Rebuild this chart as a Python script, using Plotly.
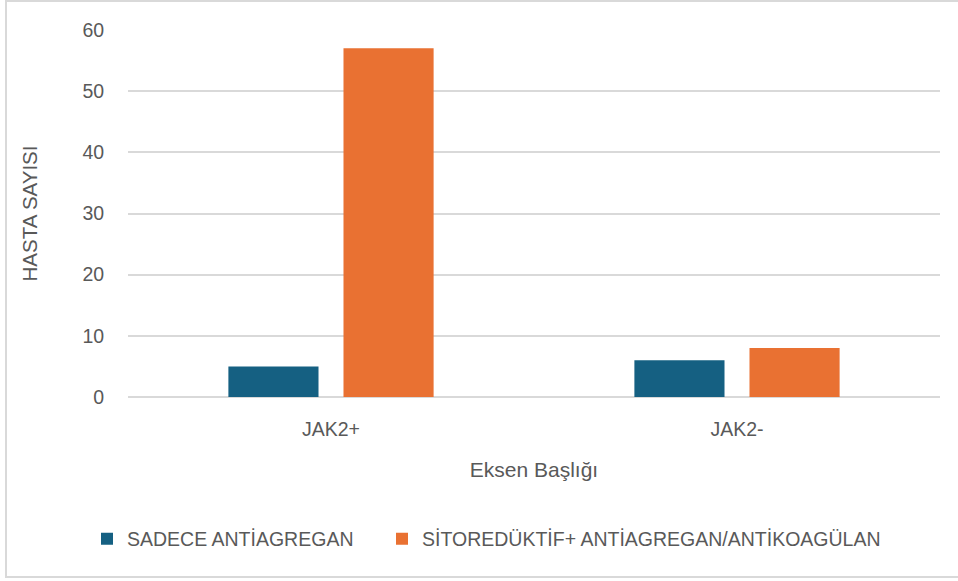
import plotly.graph_objects as go

categories = ["JAK2+", "JAK2-"]
series_names = ["SADECE ANTİAGREGAN", "SİTOREDÜKTİF+ ANTİAGREGAN/ANTİKOAGÜLAN"]
sadece_values = [5, 6]
sitoreduktif_values = [57, 8]
colors = ["#156082", "#E97132"]
y_ticks = [0, 10, 20, 30, 40, 50, 60]

FONT = "Liberation Sans"
GRAY = "#595959"

# plot area in pixels: left 128, width 812, zero line at 397, height 367
def px_x(p):
    return (p - 128) / 812

def px_y(p):
    return (397 - p) / 367

fig = go.Figure()
legend_ids = ["legend", "legend2"]
for name, vals, col, lg in zip(series_names, [sadece_values, sitoreduktif_values], colors, legend_ids):
    fig.add_trace(go.Bar(x=categories, y=vals, name=name, legend=lg,
                         marker=dict(color=col, line_width=0)))

legend_style = dict(orientation="h", yanchor="middle", xanchor="left",
                    font=dict(size=19.5, color=GRAY), itemwidth=30,
                    bgcolor="rgba(0,0,0,0)")

fig.update_layout(
    width=958, height=581,
    margin=dict(l=128, r=18, t=30, b=184),
    paper_bgcolor="white", plot_bgcolor="white",
    barmode="group", bargap=0.433, bargroupgap=0.217,
    font=dict(family=FONT, color=GRAY, size=19),
    showlegend=True,
    legend=dict(x=px_x(87), y=px_y(539), **legend_style),
    legend2=dict(x=px_x(382), y=px_y(539), **legend_style),
    xaxis=dict(showgrid=False, showline=False, ticks="outside", ticklen=15, tickcolor="white",
               tickfont=dict(size=19.5, color=GRAY),
               title=dict(text="Eksen Başlığı", font=dict(size=21, color=GRAY), standoff=22)),
    yaxis=dict(range=[0, 60], tickvals=y_ticks, showgrid=True, gridcolor="#D9D9D9", gridwidth=2,
               zeroline=True, zerolinecolor="#D9D9D9", zerolinewidth=2,
               showline=False, ticks="outside", ticklen=19, tickcolor="white",
               tickfont=dict(size=19.5, color=GRAY),
               title=dict(text="HASTA SAYISI", font=dict(size=20.5, color=GRAY), standoff=39)),
    shapes=[dict(type="rect", xref="paper", yref="paper",
                 x0=px_x(6), x1=px_x(960), y0=px_y(577), y1=px_y(1),
                 line=dict(color="#D9D9D9", width=2), layer="below")],
)

fig.write_html("out.html")
